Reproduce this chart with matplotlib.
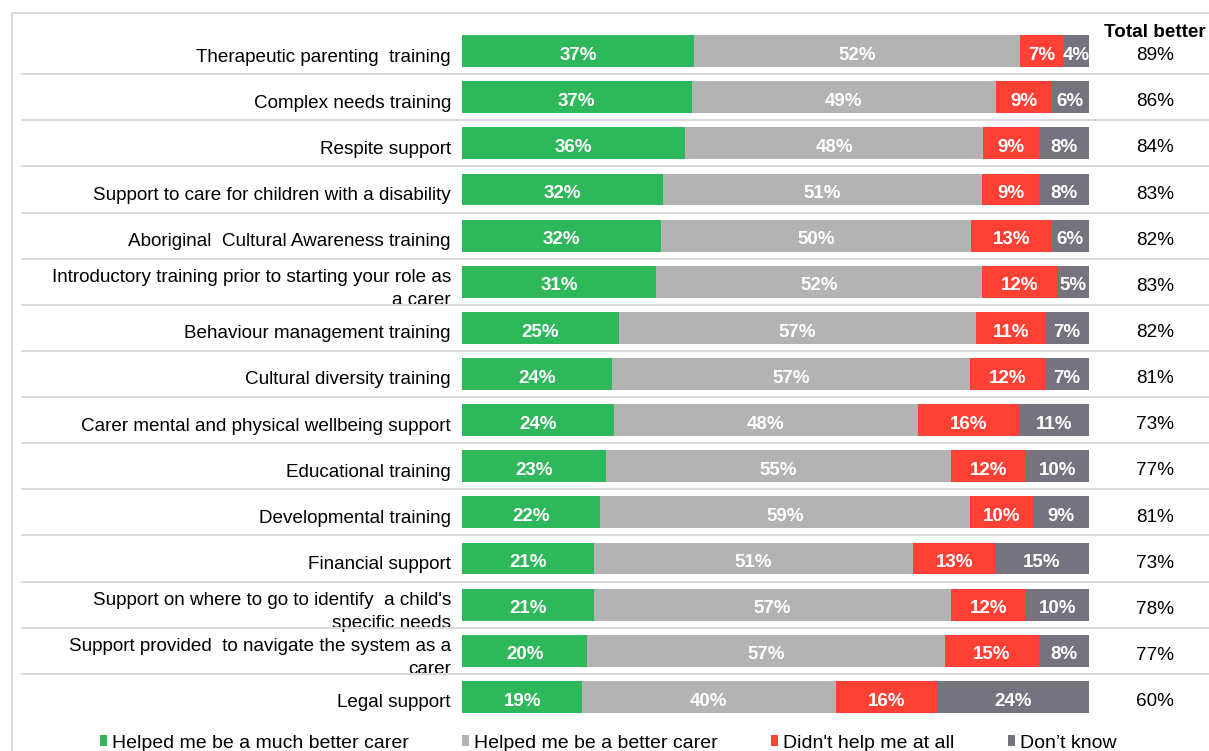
import matplotlib
matplotlib.use("Agg")
import matplotlib.pyplot as plt
from matplotlib.lines import Line2D
from matplotlib.patches import Patch
from matplotlib.transforms import ScaledTranslation
import numpy as np

plt.rcParams['font.family'] = ['Liberation Sans', 'DejaVu Sans']

categories = [
    "Therapeutic parenting  training",
    "Complex needs training",
    "Respite support",
    "Support to care for children with a disability",
    "Aboriginal  Cultural Awareness training",
    "Introductory training prior to starting your role as\na carer",
    "Behaviour management training",
    "Cultural diversity training",
    "Carer mental and physical wellbeing support",
    "Educational training",
    "Developmental training",
    "Financial support",
    "Support on where to go to identify  a child's\nspecific needs",
    "Support provided  to navigate the system as a\ncarer",
    "Legal support",
]

much_better = [37, 37, 36, 32, 32, 31, 25, 24, 24, 23, 22, 21, 21, 20, 19]
better = [52, 49, 48, 51, 50, 52, 57, 57, 48, 55, 59, 51, 57, 57, 40]
no_help = [7, 9, 9, 9, 13, 12, 11, 12, 16, 12, 10, 13, 12, 15, 16]
dont_know = [4, 6, 8, 8, 6, 5, 7, 7, 11, 10, 9, 15, 10, 8, 24]
total_better = [89, 86, 84, 83, 82, 83, 82, 81, 73, 77, 81, 73, 78, 77, 60]

series_names = ["Helped me be a much better carer", "Helped me be a better carer",
                "Didn't help me at all", "Don’t know"]
colors = ["#2EB75B", "#B3B3B3", "#FE4035", "#74737E"]

fig = plt.figure(figsize=(12.09, 7.51), dpi=100)
ax = fig.add_axes([462 / 1209, 1 - 720 / 751, 627 / 1209, 692 / 751])

series = np.array([much_better, better, no_help, dont_know], dtype=float)
row_sums = series.sum(axis=0)
y = np.arange(len(categories))
left = np.zeros(len(categories))
for vals, color in zip(series, colors):
    widths = vals / row_sums * 100
    ax.barh(y, widths, left=left, height=0.69, color=color, edgecolor='none')
    for yi, (l, w, v) in enumerate(zip(left, widths, vals)):
        ax.text(l + w / 2, yi + 0.09, f"{int(v)}%", ha='center', va='center',
                color='white', fontsize=13.5, fontweight='bold')
    left += widths

ax.set_xlim(0, 100)
ax.set_ylim(len(categories) - 0.5, -0.5)
ax.set_yticks(y)
ax.set_yticklabels(categories, fontsize=13.6, linespacing=1.45)
ax.tick_params(axis='y', length=0, pad=8)
ax.set_xticks([])
for s in ax.spines.values():
    s.set_visible(False)

# category labels sit a little below the bar centres
for lbl in ax.get_yticklabels():
    dy = 2.5 if "\n" in lbl.get_text() else 4.0
    lbl.set_transform(lbl.get_transform() +
                      ScaledTranslation(0, -dy / 100, fig.dpi_scale_trans))

# row separators
x0 = (22 - 462) / 627
x1 = (1209 - 462) / 627
for k in range(len(categories) - 1):
    ax.axhline(k + 0.5, xmin=x0, xmax=x1, color='#DADADA', lw=1.5, clip_on=False)

# "Total better" column
tx = (1155 - 462) / 627 * 100
ax.text(tx, -0.40, "Total better", ha='center', va='center', fontsize=13.6,
        fontweight='bold', clip_on=False)
for yi, v in enumerate(total_better):
    ax.text(tx, yi + 0.1, f"{v}%", ha='center', va='center', fontsize=13.6, clip_on=False)

# outer frame
fig.add_artist(Line2D([12 / 1209, 12 / 1209], [1 - 13 / 751, 0], color='#DADADA', lw=1.5))
fig.add_artist(Line2D([12 / 1209, 1], [1 - 13 / 751, 1 - 13 / 751], color='#DADADA', lw=1.5))

# legend
handles = [Patch(facecolor=c, edgecolor='none') for c in colors]
leg = fig.legend(handles, series_names, loc='center', bbox_to_anchor=(0.503, 1 - 743 / 751),
                 ncol=4, frameon=False, fontsize=14, handlelength=0.37, handleheight=0.5,
                 handletextpad=0.25, columnspacing=2.75)

fig.savefig("out.png", dpi=100)
